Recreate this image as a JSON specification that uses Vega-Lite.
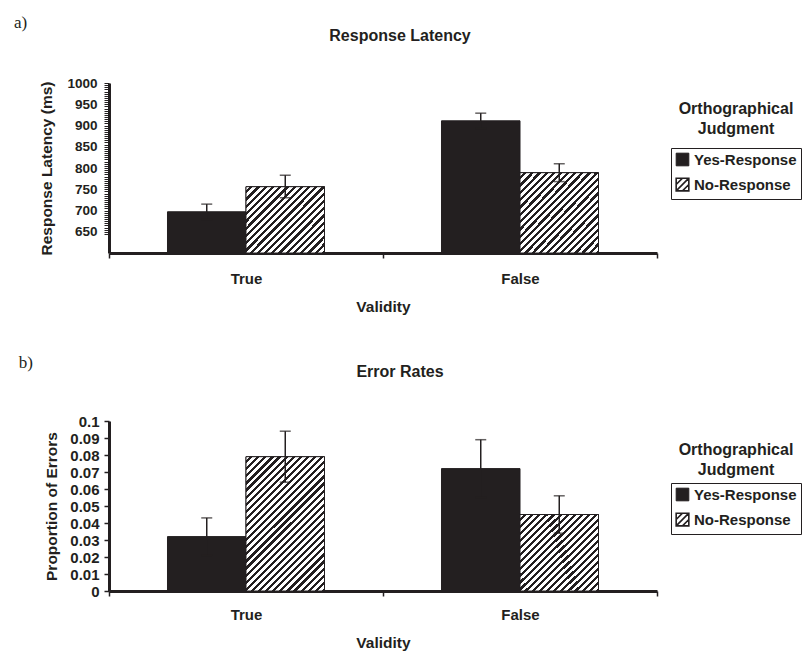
{
  "$schema": "https://vega.github.io/schema/vega-lite/v6.json",
  "padding": {"left": 13, "top": 14, "right": 0, "bottom": 0},
  "background": "white",
  "datasets": {
    "latency": [
      {"Validity": "True", "Judgment": "Yes-Response", "value": 697, "lo": 679, "hi": 715},
      {"Validity": "True", "Judgment": "No-Response", "value": 756, "lo": 730, "hi": 783},
      {"Validity": "False", "Judgment": "Yes-Response", "value": 911, "lo": 893, "hi": 929},
      {"Validity": "False", "Judgment": "No-Response", "value": 789, "lo": 768, "hi": 810}
    ],
    "errors": [
      {"Validity": "True", "Judgment": "Yes-Response", "value": 0.032, "lo": 0.021, "hi": 0.043},
      {"Validity": "True", "Judgment": "No-Response", "value": 0.079, "lo": 0.064, "hi": 0.094},
      {"Validity": "False", "Judgment": "Yes-Response", "value": 0.072, "lo": 0.055, "hi": 0.089},
      {"Validity": "False", "Judgment": "No-Response", "value": 0.045, "lo": 0.034, "hi": 0.056}
    ]
  },
  "spacing": 39,
  "resolve": {"scale": {"color": "independent", "stroke": "independent"}, "legend": {"color": "independent", "stroke": "independent"}},
  "vconcat": [
    {
      "title": {"text": "a)", "anchor": "start", "font": "Liberation Serif", "fontWeight": "normal", "fontSize": 17, "dx": -26, "offset": -4},
      "resolve": {"scale": {"color": "independent", "stroke": "independent"}, "legend": {"color": "independent", "stroke": "independent"}},
      "vconcat": [
        {
          "width": 548,
          "height": 170,
          "title": {"text": "Response Latency", "offset": 32, "dx": 17},
          "data": {"name": "latency"},
          "encoding": {
            "x": {"field": "Validity", "type": "nominal", "scale": {"domain": ["True", "False"], "paddingInner": 0, "paddingOuter": 0}, "axis": {"title": "Validity"}},
            "xOffset": {"field": "Judgment", "type": "nominal", "scale": {"domain": ["Yes-Response", "No-Response"], "paddingInner": 0, "paddingOuter": 0.745}}
          },
          "layer": [
            {
              "mark": {"type": "bar", "strokeWidth": 1},
              "encoding": {
                "y": {"field": "value", "type": "quantitative", "scale": {"domain": [600, 1000], "nice": false, "zero": false},
                  "axis": {"title": "Response Latency (ms)", "format": "d", "values": [645,650,655,660,665,670,675,680,685,690,695,700,705,710,715,720,725,730,735,740,745,750,755,760,765,770,775,780,785,790,795,800,805,810,815,820,825,830,835,840,845,850,855,860,865,870,875,880,885,890,895,900,905,910,915,920,925,930,935,940,945,950,955,960,965,970,975,980,985,990,995,1000], "labelExpr": "datum.value % 50 === 0 ? datum.label : ''", "labelOverlap": false, "tickSize": 5, "tickWidth": 1}},
                "y2": {"datum": 600},
                "color": {"field": "Judgment", "type": "nominal", "scale": {"domain": ["Yes-Response", "No-Response"], "range": ["#231f20", "#ffffff"]},
                  "legend": {"title": null, "orient": "none", "legendX": 562, "legendY": 65, "strokeColor": "#231f20", "padding": 4, "rowPadding": 6,
                    "encode": {"symbols": {"update": {"stroke": {"value": "#231f20"}, "strokeWidth": {"signal": "datum.value === 'No-Response' ? 1.6 : 1"}, "shape": {"signal": "datum.value === 'No-Response' ? 'M-1,-1H1V1H-1Z M-1,1L1,-1 M0,1L1,0 M-1,0L0,-1' : 'square'"}}}}}},
                "stroke": {"field": "Judgment", "type": "nominal", "scale": {"domain": ["No-Response", "Yes-Response"], "range": ["#231f20", "#231f20"]},
                  "legend": {"title": ["Orthographical", "Judgment"], "orient": "none", "legendX": 570, "legendY": 18, "symbolOpacity": 0, "symbolSize": 1, "labelExpr": "''", "labelFontSize": 1, "rowPadding": 0}}
              }
            },
            {
              "transform": [{"filter": "datum.Judgment === 'No-Response' && datum.Validity === 'True'"}],
              "mark": {"type": "bar", "stroke": "#231f20", "strokeWidth": 1, "fill": {"gradient": "linear", "x1": 0, "y1": 0, "x2": 1.079, "y2": 0.906, "stops": [
        {"offset":0,"color":"#fff"},{"offset":0.0275,"color":"#fff"},{"offset":0.0275,"color":"#231f20"},{"offset":0.05,"color":"#231f20"},
        {"offset":0.05,"color":"#fff"},{"offset":0.0775,"color":"#fff"},{"offset":0.0775,"color":"#231f20"},{"offset":0.1,"color":"#231f20"},
        {"offset":0.1,"color":"#fff"},{"offset":0.1275,"color":"#fff"},{"offset":0.1275,"color":"#231f20"},{"offset":0.15,"color":"#231f20"},
        {"offset":0.15,"color":"#fff"},{"offset":0.1775,"color":"#fff"},{"offset":0.1775,"color":"#231f20"},{"offset":0.2,"color":"#231f20"},
        {"offset":0.2,"color":"#fff"},{"offset":0.2275,"color":"#fff"},{"offset":0.2275,"color":"#231f20"},{"offset":0.25,"color":"#231f20"},
        {"offset":0.25,"color":"#fff"},{"offset":0.2775,"color":"#fff"},{"offset":0.2775,"color":"#231f20"},{"offset":0.3,"color":"#231f20"},
        {"offset":0.3,"color":"#fff"},{"offset":0.3275,"color":"#fff"},{"offset":0.3275,"color":"#231f20"},{"offset":0.35,"color":"#231f20"},
        {"offset":0.35,"color":"#fff"},{"offset":0.3775,"color":"#fff"},{"offset":0.3775,"color":"#231f20"},{"offset":0.4,"color":"#231f20"},
        {"offset":0.4,"color":"#fff"},{"offset":0.4275,"color":"#fff"},{"offset":0.4275,"color":"#231f20"},{"offset":0.45,"color":"#231f20"},
        {"offset":0.45,"color":"#fff"},{"offset":0.4775,"color":"#fff"},{"offset":0.4775,"color":"#231f20"},{"offset":0.5,"color":"#231f20"},
        {"offset":0.5,"color":"#fff"},{"offset":0.5275,"color":"#fff"},{"offset":0.5275,"color":"#231f20"},{"offset":0.55,"color":"#231f20"},
        {"offset":0.55,"color":"#fff"},{"offset":0.5775,"color":"#fff"},{"offset":0.5775,"color":"#231f20"},{"offset":0.6,"color":"#231f20"},
        {"offset":0.6,"color":"#fff"},{"offset":0.6275,"color":"#fff"},{"offset":0.6275,"color":"#231f20"},{"offset":0.65,"color":"#231f20"},
        {"offset":0.65,"color":"#fff"},{"offset":0.6775,"color":"#fff"},{"offset":0.6775,"color":"#231f20"},{"offset":0.7,"color":"#231f20"},
        {"offset":0.7,"color":"#fff"},{"offset":0.7275,"color":"#fff"},{"offset":0.7275,"color":"#231f20"},{"offset":0.75,"color":"#231f20"},
        {"offset":0.75,"color":"#fff"},{"offset":0.7775,"color":"#fff"},{"offset":0.7775,"color":"#231f20"},{"offset":0.8,"color":"#231f20"},
        {"offset":0.8,"color":"#fff"},{"offset":0.8275,"color":"#fff"},{"offset":0.8275,"color":"#231f20"},{"offset":0.85,"color":"#231f20"},
        {"offset":0.85,"color":"#fff"},{"offset":0.8775,"color":"#fff"},{"offset":0.8775,"color":"#231f20"},{"offset":0.9,"color":"#231f20"},
        {"offset":0.9,"color":"#fff"},{"offset":0.9275,"color":"#fff"},{"offset":0.9275,"color":"#231f20"},{"offset":0.95,"color":"#231f20"},
        {"offset":0.95,"color":"#fff"},{"offset":0.9775,"color":"#fff"},{"offset":0.9775,"color":"#231f20"},{"offset":1,"color":"#231f20"}
      ]}},
              "encoding": {"y": {"field": "value", "type": "quantitative", "axis": {"title": "Response Latency (ms)", "format": "d", "values": [645,650,655,660,665,670,675,680,685,690,695,700,705,710,715,720,725,730,735,740,745,750,755,760,765,770,775,780,785,790,795,800,805,810,815,820,825,830,835,840,845,850,855,860,865,870,875,880,885,890,895,900,905,910,915,920,925,930,935,940,945,950,955,960,965,970,975,980,985,990,995,1000], "labelExpr": "datum.value % 50 === 0 ? datum.label : ''", "labelOverlap": false, "tickSize": 5, "tickWidth": 1}}, "y2": {"datum": 600}}
            },
            {
              "transform": [{"filter": "datum.Judgment === 'No-Response' && datum.Validity === 'False'"}],
              "mark": {"type": "bar", "stroke": "#231f20", "strokeWidth": 1, "fill": {"gradient": "linear", "x1": 0, "y1": 0, "x2": 1, "y2": 1, "stops": [
        {"offset":0,"color":"#fff"},{"offset":0.025,"color":"#fff"},{"offset":0.025,"color":"#231f20"},{"offset":0.04545,"color":"#231f20"},
        {"offset":0.04545,"color":"#fff"},{"offset":0.07045,"color":"#fff"},{"offset":0.07045,"color":"#231f20"},{"offset":0.09091,"color":"#231f20"},
        {"offset":0.09091,"color":"#fff"},{"offset":0.11591,"color":"#fff"},{"offset":0.11591,"color":"#231f20"},{"offset":0.13636,"color":"#231f20"},
        {"offset":0.13636,"color":"#fff"},{"offset":0.16136,"color":"#fff"},{"offset":0.16136,"color":"#231f20"},{"offset":0.18182,"color":"#231f20"},
        {"offset":0.18182,"color":"#fff"},{"offset":0.20682,"color":"#fff"},{"offset":0.20682,"color":"#231f20"},{"offset":0.22727,"color":"#231f20"},
        {"offset":0.22727,"color":"#fff"},{"offset":0.25227,"color":"#fff"},{"offset":0.25227,"color":"#231f20"},{"offset":0.27273,"color":"#231f20"},
        {"offset":0.27273,"color":"#fff"},{"offset":0.29773,"color":"#fff"},{"offset":0.29773,"color":"#231f20"},{"offset":0.31818,"color":"#231f20"},
        {"offset":0.31818,"color":"#fff"},{"offset":0.34318,"color":"#fff"},{"offset":0.34318,"color":"#231f20"},{"offset":0.36364,"color":"#231f20"},
        {"offset":0.36364,"color":"#fff"},{"offset":0.38864,"color":"#fff"},{"offset":0.38864,"color":"#231f20"},{"offset":0.40909,"color":"#231f20"},
        {"offset":0.40909,"color":"#fff"},{"offset":0.43409,"color":"#fff"},{"offset":0.43409,"color":"#231f20"},{"offset":0.45455,"color":"#231f20"},
        {"offset":0.45455,"color":"#fff"},{"offset":0.47955,"color":"#fff"},{"offset":0.47955,"color":"#231f20"},{"offset":0.5,"color":"#231f20"},
        {"offset":0.5,"color":"#fff"},{"offset":0.525,"color":"#fff"},{"offset":0.525,"color":"#231f20"},{"offset":0.54545,"color":"#231f20"},
        {"offset":0.54545,"color":"#fff"},{"offset":0.57045,"color":"#fff"},{"offset":0.57045,"color":"#231f20"},{"offset":0.59091,"color":"#231f20"},
        {"offset":0.59091,"color":"#fff"},{"offset":0.61591,"color":"#fff"},{"offset":0.61591,"color":"#231f20"},{"offset":0.63636,"color":"#231f20"},
        {"offset":0.63636,"color":"#fff"},{"offset":0.66136,"color":"#fff"},{"offset":0.66136,"color":"#231f20"},{"offset":0.68182,"color":"#231f20"},
        {"offset":0.68182,"color":"#fff"},{"offset":0.70682,"color":"#fff"},{"offset":0.70682,"color":"#231f20"},{"offset":0.72727,"color":"#231f20"},
        {"offset":0.72727,"color":"#fff"},{"offset":0.75227,"color":"#fff"},{"offset":0.75227,"color":"#231f20"},{"offset":0.77273,"color":"#231f20"},
        {"offset":0.77273,"color":"#fff"},{"offset":0.79773,"color":"#fff"},{"offset":0.79773,"color":"#231f20"},{"offset":0.81818,"color":"#231f20"},
        {"offset":0.81818,"color":"#fff"},{"offset":0.84318,"color":"#fff"},{"offset":0.84318,"color":"#231f20"},{"offset":0.86364,"color":"#231f20"},
        {"offset":0.86364,"color":"#fff"},{"offset":0.88864,"color":"#fff"},{"offset":0.88864,"color":"#231f20"},{"offset":0.90909,"color":"#231f20"},
        {"offset":0.90909,"color":"#fff"},{"offset":0.93409,"color":"#fff"},{"offset":0.93409,"color":"#231f20"},{"offset":0.95455,"color":"#231f20"},
        {"offset":0.95455,"color":"#fff"},{"offset":0.97955,"color":"#fff"},{"offset":0.97955,"color":"#231f20"},{"offset":1,"color":"#231f20"}
      ]}},
              "encoding": {"y": {"field": "value", "type": "quantitative", "axis": {"title": "Response Latency (ms)", "format": "d", "values": [645,650,655,660,665,670,675,680,685,690,695,700,705,710,715,720,725,730,735,740,745,750,755,760,765,770,775,780,785,790,795,800,805,810,815,820,825,830,835,840,845,850,855,860,865,870,875,880,885,890,895,900,905,910,915,920,925,930,935,940,945,950,955,960,965,970,975,980,985,990,995,1000], "labelExpr": "datum.value % 50 === 0 ? datum.label : ''", "labelOverlap": false, "tickSize": 5, "tickWidth": 1}}, "y2": {"datum": 600}}
            },
            {
              "mark": {"type": "rule", "color": "#231f20", "strokeWidth": 1.5},
              "encoding": {"y": {"field": "lo", "type": "quantitative", "axis": {"title": "Response Latency (ms)", "format": "d", "values": [645,650,655,660,665,670,675,680,685,690,695,700,705,710,715,720,725,730,735,740,745,750,755,760,765,770,775,780,785,790,795,800,805,810,815,820,825,830,835,840,845,850,855,860,865,870,875,880,885,890,895,900,905,910,915,920,925,930,935,940,945,950,955,960,965,970,975,980,985,990,995,1000], "labelExpr": "datum.value % 50 === 0 ? datum.label : ''", "labelOverlap": false, "tickSize": 5, "tickWidth": 1}}, "y2": {"field": "hi"}}
            },
            {
              "mark": {"type": "tick", "color": "#231f20", "thickness": 1.5, "size": 11},
              "encoding": {"y": {"field": "hi", "type": "quantitative", "axis": {"title": "Response Latency (ms)", "format": "d", "values": [645,650,655,660,665,670,675,680,685,690,695,700,705,710,715,720,725,730,735,740,745,750,755,760,765,770,775,780,785,790,795,800,805,810,815,820,825,830,835,840,845,850,855,860,865,870,875,880,885,890,895,900,905,910,915,920,925,930,935,940,945,950,955,960,965,970,975,980,985,990,995,1000], "labelExpr": "datum.value % 50 === 0 ? datum.label : ''", "labelOverlap": false, "tickSize": 5, "tickWidth": 1}}}
            },
            {
              "mark": {"type": "tick", "color": "#231f20", "thickness": 1.5, "size": 11},
              "encoding": {"y": {"field": "lo", "type": "quantitative", "axis": {"title": "Response Latency (ms)", "format": "d", "values": [645,650,655,660,665,670,675,680,685,690,695,700,705,710,715,720,725,730,735,740,745,750,755,760,765,770,775,780,785,790,795,800,805,810,815,820,825,830,835,840,845,850,855,860,865,870,875,880,885,890,895,900,905,910,915,920,925,930,935,940,945,950,955,960,965,970,975,980,985,990,995,1000], "labelExpr": "datum.value % 50 === 0 ? datum.label : ''", "labelOverlap": false, "tickSize": 5, "tickWidth": 1}}}
            }
          ]
        }
      ]
    },
    {
      "title": {"text": "b)", "anchor": "start", "font": "Liberation Serif", "fontWeight": "normal", "fontSize": 17, "dx": -26, "offset": -8},
      "resolve": {"scale": {"color": "independent", "stroke": "independent"}, "legend": {"color": "independent", "stroke": "independent"}},
      "vconcat": [
        {
          "width": 548,
          "height": 170,
          "title": {"text": "Error Rates", "offset": 34, "dx": 17},
          "data": {"name": "errors"},
          "encoding": {
            "x": {"field": "Validity", "type": "nominal", "scale": {"domain": ["True", "False"], "paddingInner": 0, "paddingOuter": 0}, "axis": {"title": "Validity", "labelPadding": 11}},
            "xOffset": {"field": "Judgment", "type": "nominal", "scale": {"domain": ["Yes-Response", "No-Response"], "paddingInner": 0, "paddingOuter": 0.745}}
          },
          "layer": [
            {
              "mark": {"type": "bar", "strokeWidth": 1},
              "encoding": {
                "y": {"field": "value", "type": "quantitative", "scale": {"domain": [0, 0.1], "nice": false},
                  "axis": {"title": "Proportion of Errors", "values": [0,0.01,0.02,0.03,0.04,0.05,0.06,0.07,0.08,0.09,0.1], "format": "~g", "labelFontSize": 15, "labelPadding": 5, "titlePadding": 10, "labelOverlap": false}},
                "y2": {"datum": 0},
                "color": {"field": "Judgment", "type": "nominal", "scale": {"domain": ["Yes-Response", "No-Response"], "range": ["#231f20", "#ffffff"]},
                  "legend": {"title": null, "orient": "none", "legendX": 562, "legendY": 62, "strokeColor": "#231f20", "padding": 4, "rowPadding": 6,
                    "encode": {"symbols": {"update": {"stroke": {"value": "#231f20"}, "strokeWidth": {"signal": "datum.value === 'No-Response' ? 1.6 : 1"}, "shape": {"signal": "datum.value === 'No-Response' ? 'M-1,-1H1V1H-1Z M-1,1L1,-1 M0,1L1,0 M-1,0L0,-1' : 'square'"}}}}}},
                "stroke": {"field": "Judgment", "type": "nominal", "scale": {"domain": ["No-Response", "Yes-Response"], "range": ["#231f20", "#231f20"]},
                  "legend": {"title": ["Orthographical", "Judgment"], "orient": "none", "legendX": 570, "legendY": 21, "symbolOpacity": 0, "symbolSize": 1, "labelExpr": "''", "labelFontSize": 1, "rowPadding": 0}}
              }
            },
            {
              "transform": [{"filter": "datum.Judgment === 'No-Response' && datum.Validity === 'True'"}],
              "mark": {"type": "bar", "stroke": "#231f20", "strokeWidth": 1, "fill": {"gradient": "linear", "x1": 0, "y1": 0, "x2": 0.69, "y2": 1.181, "stops": [
        {"offset":0,"color":"#fff"},{"offset":0.01833,"color":"#fff"},{"offset":0.01833,"color":"#231f20"},{"offset":0.03333,"color":"#231f20"},
        {"offset":0.03333,"color":"#fff"},{"offset":0.05167,"color":"#fff"},{"offset":0.05167,"color":"#231f20"},{"offset":0.06667,"color":"#231f20"},
        {"offset":0.06667,"color":"#fff"},{"offset":0.085,"color":"#fff"},{"offset":0.085,"color":"#231f20"},{"offset":0.1,"color":"#231f20"},
        {"offset":0.1,"color":"#fff"},{"offset":0.11833,"color":"#fff"},{"offset":0.11833,"color":"#231f20"},{"offset":0.13333,"color":"#231f20"},
        {"offset":0.13333,"color":"#fff"},{"offset":0.15167,"color":"#fff"},{"offset":0.15167,"color":"#231f20"},{"offset":0.16667,"color":"#231f20"},
        {"offset":0.16667,"color":"#fff"},{"offset":0.185,"color":"#fff"},{"offset":0.185,"color":"#231f20"},{"offset":0.2,"color":"#231f20"},
        {"offset":0.2,"color":"#fff"},{"offset":0.21833,"color":"#fff"},{"offset":0.21833,"color":"#231f20"},{"offset":0.23333,"color":"#231f20"},
        {"offset":0.23333,"color":"#fff"},{"offset":0.25167,"color":"#fff"},{"offset":0.25167,"color":"#231f20"},{"offset":0.26667,"color":"#231f20"},
        {"offset":0.26667,"color":"#fff"},{"offset":0.285,"color":"#fff"},{"offset":0.285,"color":"#231f20"},{"offset":0.3,"color":"#231f20"},
        {"offset":0.3,"color":"#fff"},{"offset":0.31833,"color":"#fff"},{"offset":0.31833,"color":"#231f20"},{"offset":0.33333,"color":"#231f20"},
        {"offset":0.33333,"color":"#fff"},{"offset":0.35167,"color":"#fff"},{"offset":0.35167,"color":"#231f20"},{"offset":0.36667,"color":"#231f20"},
        {"offset":0.36667,"color":"#fff"},{"offset":0.385,"color":"#fff"},{"offset":0.385,"color":"#231f20"},{"offset":0.4,"color":"#231f20"},
        {"offset":0.4,"color":"#fff"},{"offset":0.41833,"color":"#fff"},{"offset":0.41833,"color":"#231f20"},{"offset":0.43333,"color":"#231f20"},
        {"offset":0.43333,"color":"#fff"},{"offset":0.45167,"color":"#fff"},{"offset":0.45167,"color":"#231f20"},{"offset":0.46667,"color":"#231f20"},
        {"offset":0.46667,"color":"#fff"},{"offset":0.485,"color":"#fff"},{"offset":0.485,"color":"#231f20"},{"offset":0.5,"color":"#231f20"},
        {"offset":0.5,"color":"#fff"},{"offset":0.51833,"color":"#fff"},{"offset":0.51833,"color":"#231f20"},{"offset":0.53333,"color":"#231f20"},
        {"offset":0.53333,"color":"#fff"},{"offset":0.55167,"color":"#fff"},{"offset":0.55167,"color":"#231f20"},{"offset":0.56667,"color":"#231f20"},
        {"offset":0.56667,"color":"#fff"},{"offset":0.585,"color":"#fff"},{"offset":0.585,"color":"#231f20"},{"offset":0.6,"color":"#231f20"},
        {"offset":0.6,"color":"#fff"},{"offset":0.61833,"color":"#fff"},{"offset":0.61833,"color":"#231f20"},{"offset":0.63333,"color":"#231f20"},
        {"offset":0.63333,"color":"#fff"},{"offset":0.65167,"color":"#fff"},{"offset":0.65167,"color":"#231f20"},{"offset":0.66667,"color":"#231f20"},
        {"offset":0.66667,"color":"#fff"},{"offset":0.685,"color":"#fff"},{"offset":0.685,"color":"#231f20"},{"offset":0.7,"color":"#231f20"},
        {"offset":0.7,"color":"#fff"},{"offset":0.71833,"color":"#fff"},{"offset":0.71833,"color":"#231f20"},{"offset":0.73333,"color":"#231f20"},
        {"offset":0.73333,"color":"#fff"},{"offset":0.75167,"color":"#fff"},{"offset":0.75167,"color":"#231f20"},{"offset":0.76667,"color":"#231f20"},
        {"offset":0.76667,"color":"#fff"},{"offset":0.785,"color":"#fff"},{"offset":0.785,"color":"#231f20"},{"offset":0.8,"color":"#231f20"},
        {"offset":0.8,"color":"#fff"},{"offset":0.81833,"color":"#fff"},{"offset":0.81833,"color":"#231f20"},{"offset":0.83333,"color":"#231f20"},
        {"offset":0.83333,"color":"#fff"},{"offset":0.85167,"color":"#fff"},{"offset":0.85167,"color":"#231f20"},{"offset":0.86667,"color":"#231f20"},
        {"offset":0.86667,"color":"#fff"},{"offset":0.885,"color":"#fff"},{"offset":0.885,"color":"#231f20"},{"offset":0.9,"color":"#231f20"},
        {"offset":0.9,"color":"#fff"},{"offset":0.91833,"color":"#fff"},{"offset":0.91833,"color":"#231f20"},{"offset":0.93333,"color":"#231f20"},
        {"offset":0.93333,"color":"#fff"},{"offset":0.95167,"color":"#fff"},{"offset":0.95167,"color":"#231f20"},{"offset":0.96667,"color":"#231f20"},
        {"offset":0.96667,"color":"#fff"},{"offset":0.985,"color":"#fff"},{"offset":0.985,"color":"#231f20"},{"offset":1,"color":"#231f20"}
      ]}},
              "encoding": {"y": {"field": "value", "type": "quantitative", "axis": {"title": "Proportion of Errors", "values": [0,0.01,0.02,0.03,0.04,0.05,0.06,0.07,0.08,0.09,0.1], "format": "~g", "labelFontSize": 15, "labelPadding": 5, "titlePadding": 10, "labelOverlap": false}}, "y2": {"datum": 0}}
            },
            {
              "transform": [{"filter": "datum.Judgment === 'No-Response' && datum.Validity === 'False'"}],
              "mark": {"type": "bar", "stroke": "#231f20", "strokeWidth": 1, "fill": {"gradient": "linear", "x1": 0, "y1": 0, "x2": 1, "y2": 1, "stops": [
        {"offset":0,"color":"#fff"},{"offset":0.025,"color":"#fff"},{"offset":0.025,"color":"#231f20"},{"offset":0.04545,"color":"#231f20"},
        {"offset":0.04545,"color":"#fff"},{"offset":0.07045,"color":"#fff"},{"offset":0.07045,"color":"#231f20"},{"offset":0.09091,"color":"#231f20"},
        {"offset":0.09091,"color":"#fff"},{"offset":0.11591,"color":"#fff"},{"offset":0.11591,"color":"#231f20"},{"offset":0.13636,"color":"#231f20"},
        {"offset":0.13636,"color":"#fff"},{"offset":0.16136,"color":"#fff"},{"offset":0.16136,"color":"#231f20"},{"offset":0.18182,"color":"#231f20"},
        {"offset":0.18182,"color":"#fff"},{"offset":0.20682,"color":"#fff"},{"offset":0.20682,"color":"#231f20"},{"offset":0.22727,"color":"#231f20"},
        {"offset":0.22727,"color":"#fff"},{"offset":0.25227,"color":"#fff"},{"offset":0.25227,"color":"#231f20"},{"offset":0.27273,"color":"#231f20"},
        {"offset":0.27273,"color":"#fff"},{"offset":0.29773,"color":"#fff"},{"offset":0.29773,"color":"#231f20"},{"offset":0.31818,"color":"#231f20"},
        {"offset":0.31818,"color":"#fff"},{"offset":0.34318,"color":"#fff"},{"offset":0.34318,"color":"#231f20"},{"offset":0.36364,"color":"#231f20"},
        {"offset":0.36364,"color":"#fff"},{"offset":0.38864,"color":"#fff"},{"offset":0.38864,"color":"#231f20"},{"offset":0.40909,"color":"#231f20"},
        {"offset":0.40909,"color":"#fff"},{"offset":0.43409,"color":"#fff"},{"offset":0.43409,"color":"#231f20"},{"offset":0.45455,"color":"#231f20"},
        {"offset":0.45455,"color":"#fff"},{"offset":0.47955,"color":"#fff"},{"offset":0.47955,"color":"#231f20"},{"offset":0.5,"color":"#231f20"},
        {"offset":0.5,"color":"#fff"},{"offset":0.525,"color":"#fff"},{"offset":0.525,"color":"#231f20"},{"offset":0.54545,"color":"#231f20"},
        {"offset":0.54545,"color":"#fff"},{"offset":0.57045,"color":"#fff"},{"offset":0.57045,"color":"#231f20"},{"offset":0.59091,"color":"#231f20"},
        {"offset":0.59091,"color":"#fff"},{"offset":0.61591,"color":"#fff"},{"offset":0.61591,"color":"#231f20"},{"offset":0.63636,"color":"#231f20"},
        {"offset":0.63636,"color":"#fff"},{"offset":0.66136,"color":"#fff"},{"offset":0.66136,"color":"#231f20"},{"offset":0.68182,"color":"#231f20"},
        {"offset":0.68182,"color":"#fff"},{"offset":0.70682,"color":"#fff"},{"offset":0.70682,"color":"#231f20"},{"offset":0.72727,"color":"#231f20"},
        {"offset":0.72727,"color":"#fff"},{"offset":0.75227,"color":"#fff"},{"offset":0.75227,"color":"#231f20"},{"offset":0.77273,"color":"#231f20"},
        {"offset":0.77273,"color":"#fff"},{"offset":0.79773,"color":"#fff"},{"offset":0.79773,"color":"#231f20"},{"offset":0.81818,"color":"#231f20"},
        {"offset":0.81818,"color":"#fff"},{"offset":0.84318,"color":"#fff"},{"offset":0.84318,"color":"#231f20"},{"offset":0.86364,"color":"#231f20"},
        {"offset":0.86364,"color":"#fff"},{"offset":0.88864,"color":"#fff"},{"offset":0.88864,"color":"#231f20"},{"offset":0.90909,"color":"#231f20"},
        {"offset":0.90909,"color":"#fff"},{"offset":0.93409,"color":"#fff"},{"offset":0.93409,"color":"#231f20"},{"offset":0.95455,"color":"#231f20"},
        {"offset":0.95455,"color":"#fff"},{"offset":0.97955,"color":"#fff"},{"offset":0.97955,"color":"#231f20"},{"offset":1,"color":"#231f20"}
      ]}},
              "encoding": {"y": {"field": "value", "type": "quantitative", "axis": {"title": "Proportion of Errors", "values": [0,0.01,0.02,0.03,0.04,0.05,0.06,0.07,0.08,0.09,0.1], "format": "~g", "labelFontSize": 15, "labelPadding": 5, "titlePadding": 10, "labelOverlap": false}}, "y2": {"datum": 0}}
            },
            {
              "mark": {"type": "rule", "color": "#231f20", "strokeWidth": 1.5},
              "encoding": {"y": {"field": "lo", "type": "quantitative", "axis": {"title": "Proportion of Errors", "values": [0,0.01,0.02,0.03,0.04,0.05,0.06,0.07,0.08,0.09,0.1], "format": "~g", "labelFontSize": 15, "labelPadding": 5, "titlePadding": 10, "labelOverlap": false}}, "y2": {"field": "hi"}}
            },
            {
              "mark": {"type": "tick", "color": "#231f20", "thickness": 1.5, "size": 11},
              "encoding": {"y": {"field": "hi", "type": "quantitative", "axis": {"title": "Proportion of Errors", "values": [0,0.01,0.02,0.03,0.04,0.05,0.06,0.07,0.08,0.09,0.1], "format": "~g", "labelFontSize": 15, "labelPadding": 5, "titlePadding": 10, "labelOverlap": false}}}
            },
            {
              "mark": {"type": "tick", "color": "#231f20", "thickness": 1.5, "size": 11},
              "encoding": {"y": {"field": "lo", "type": "quantitative", "axis": {"title": "Proportion of Errors", "values": [0,0.01,0.02,0.03,0.04,0.05,0.06,0.07,0.08,0.09,0.1], "format": "~g", "labelFontSize": 15, "labelPadding": 5, "titlePadding": 10, "labelOverlap": false}}}
            }
          ]
        }
      ]
    }
  ],
  "config": {
    "font": "Liberation Sans",
    "view": {"stroke": null},
    "axis": {"labelFont": "Liberation Sans", "labelFontWeight": "bold", "labelColor": "#231f20", "titleFont": "Liberation Sans", "titleFontWeight": "bold", "titleColor": "#231f20", "titleFontSize": 15.5, "domainColor": "#231f20", "tickColor": "#231f20", "grid": false, "domainWidth": 3, "tickWidth": 1.5, "tickSize": 5},
    "axisX": {"labelFontSize": 15, "labelPadding": 13, "titlePadding": 13, "labelAngle": 0, "tickBand": "extent"},
    "axisY": {"labelFontSize": 13.5, "labelPadding": 7, "titlePadding": 12},
    "title": {"font": "Liberation Sans", "fontWeight": "bold", "fontSize": 16, "color": "#231f20"},
    "legend": {"symbolType": "square", "symbolSize": 160, "symbolStrokeColor": "#231f20", "symbolStrokeWidth": 1, "labelFont": "Liberation Sans", "labelFontSize": 15, "labelFontWeight": "bold", "labelColor": "#231f20", "labelOffset": 4, "rowPadding": 9, "titleFont": "Liberation Sans", "titleFontSize": 16, "titleFontWeight": "bold", "titleColor": "#231f20", "titleAnchor": "middle", "titleAlign": "center", "titleLineHeight": 20, "titlePadding": 10}
  }
}
